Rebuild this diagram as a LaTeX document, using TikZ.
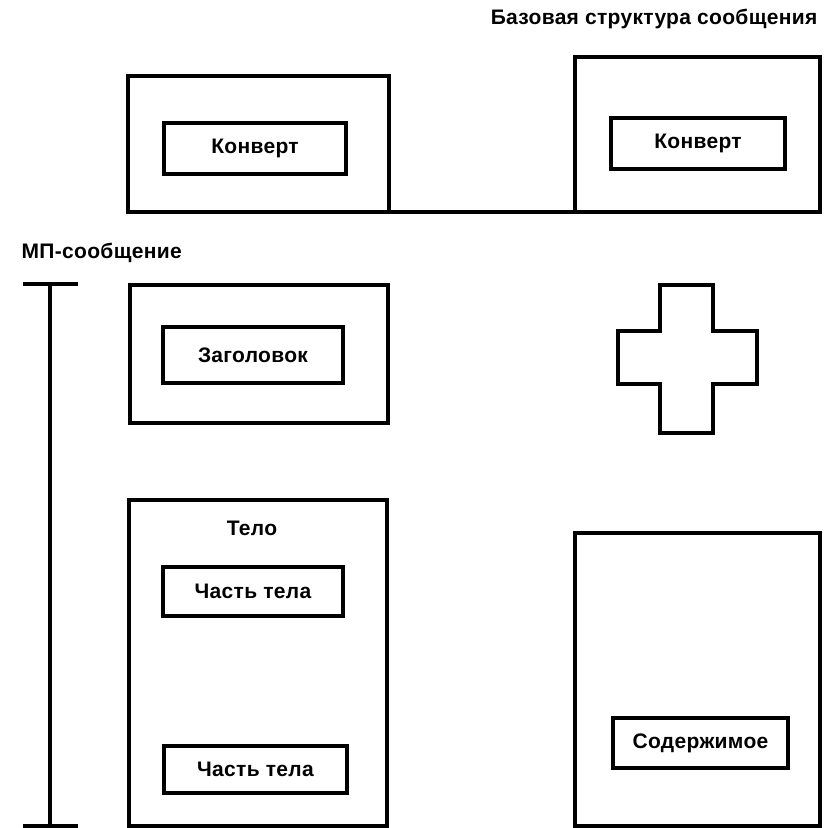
\documentclass[tikz,border=0pt]{standalone}
\usepackage{fontspec}
\setmainfont{Liberation Sans}[LetterSpace=1.5]
\newcommand\lblfont{\fontsize{21}{25}\selectfont\bfseries}

\begin{document}
\begin{tikzpicture}[x=1pt, y=-1pt, line width=3.4pt,
		box/.style={draw, inner sep=0pt, outer sep=0pt, line width=3.4pt},
		lbl/.style={font=\lblfont, inner sep=0pt}]
		\useasboundingbox (0,0) rectangle (826,828);

		% envelopes
		\node (envL) [box, minimum width=261pt, minimum height=136pt] at (258.5,144) {};
		\node (envLin) [box, lbl, minimum width=182pt, minimum height=51pt] at (255,148.5) {Конверт};
		\node (envR) [box, minimum width=245pt, minimum height=155pt] at (697.5,134.5) {};
		\node (envRin) [box, lbl, minimum width=174pt, minimum height=51pt] at (698,143.5) {Конверт};
		\draw (envL.south east) -- (envR.south west);
		\node (title) [lbl, anchor=base east] at (819,24) {Базовая структура сообщения};

		% message
		\node (mp) [lbl, anchor=base west] at (20,258) {МП-сообщение};
		\coordinate (btop) at (50,284);
		\coordinate (bbot) at (50,826);
		\draw (btop) -- (bbot);
		\draw ([xshift=-27pt]btop) -- ([xshift=28pt]btop);
		\draw ([xshift=-27pt]bbot) -- ([xshift=28pt]bbot);

		\node (head) [box, minimum width=258pt, minimum height=138pt] at (259,354) {};
		\node (headin) [box, lbl, minimum width=180pt, minimum height=56pt] at (253,355) {Заголовок};

		\node (body) [box, minimum width=258pt, minimum height=326pt] at (258,663) {};
		\node (tel) [lbl] at (252,528) {Тело};
		\node (partA) [box, lbl, minimum width=180pt, minimum height=49pt] at (253,591.5) {Часть тела};
		\node (partB) [box, lbl, minimum width=183pt, minimum height=47pt] at (255.5,769.5) {Часть тела};

		% plus
		\draw (660,285) -- (713,285) -- (713,331) -- (757,331) -- (757,384) -- (713,384)
			-- (713,433) -- (660,433) -- (660,384) -- (618,384) -- (618,331) -- (660,331) -- cycle;

		\node (cont) [box, minimum width=245pt, minimum height=293pt] at (697.5,679.5) {};
		\node (contin) [box, lbl, minimum width=175pt, minimum height=50pt] at (700.5,743) {Содержимое};

	\end{tikzpicture}
\end{document}
